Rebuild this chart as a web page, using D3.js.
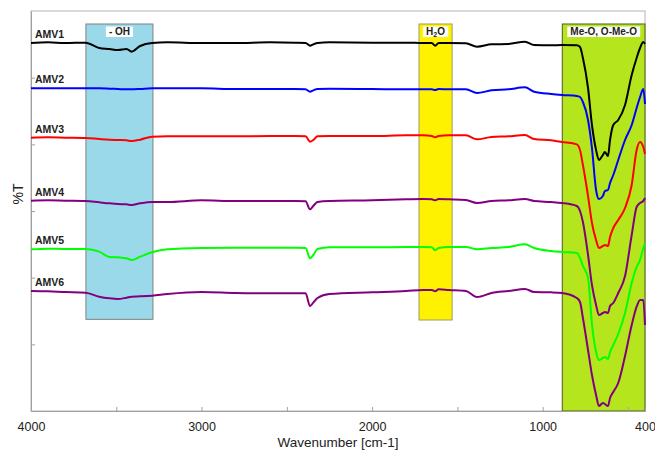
<!DOCTYPE html>
<html>
<head>
<meta charset="UTF-8">
<title>FTIR spectra</title>
<style>
	body { margin: 0; background: #fff; }
	svg text { font-family: Arial, "Liberation Sans", sans-serif; }
</style>
</head>
<body>
<div id="chart"></div>
<script src="https://cdn.jsdelivr.net/npm/d3@7/dist/d3.min.js"></script>
<script>
// wavenumber grid (cm-1), shared by all spectra
var wavenumbers = [4000, 3900, 3800, 3680, 3600, 3540, 3490, 3440, 3410, 3360,
	3290, 3200, 3000, 2800, 2600, 2450, 2390, 2364, 2345, 2320,
	2250, 2000, 1800, 1700, 1650, 1630, 1610, 1550, 1450, 1385,
	1300, 1200, 1104, 1050, 950, 887,
	800, 781, 764, 734, 711, 687, 670, 647, 635, 617, 605, 586, 557, 517, 478, 449, 429, 410, 400];

// %T (stacked, offset spectra)
var amv1 = [110.4, 110.6, 110.4, 110.5, 108.9, 108.6, 108.3, 108.6, 107.8, 109.5,
	110.4, 110.6, 110.4, 110.4, 110.6, 110.5, 110.4, 109.6, 110.0, 110.4,
	110.6, 110.5, 110.5, 110.4, 110.4, 109.6, 110.4, 110.4, 110.3, 109.3,
	110.0, 110.1, 110.8, 109.8, 109.7, 109.8,
	109.7, 109.2, 105.9, 96.9, 85.8, 78.3, 75.3, 76.8, 77.7, 76.5, 81.3, 85.8, 87.3, 91.8, 100.8, 105.9, 108.9, 110.7, 110.1];
var amv2 = [96.8, 96.8, 96.8, 96.8, 96.8, 96.7, 96.6, 96.5, 96.5, 96.6,
	96.8, 96.8, 96.8, 96.6, 96.6, 96.6, 96.5, 95.8, 96.2, 96.6,
	96.7, 96.6, 96.5, 96.5, 96.5, 96.3, 96.6, 96.5, 96.5, 95.4,
	96.2, 96.5, 97.1, 95.8, 95.1, 94.8,
	94.5, 94.2, 92.7, 87.3, 78.9, 66.3, 63.6, 64.5, 66.0, 66.3, 68.4, 70.8, 75.3, 81.3, 85.8, 90.9, 94.2, 96.6, 92.1];
var amv3 = [82.0, 82.1, 82.0, 81.9, 81.6, 81.4, 81.3, 81.2, 81.0, 81.4,
	82.3, 82.4, 82.4, 82.4, 82.5, 82.5, 82.4, 80.8, 81.3, 82.4,
	82.5, 82.5, 82.7, 82.7, 82.5, 82.1, 82.5, 82.7, 82.7, 81.5,
	82.2, 82.4, 82.8, 81.6, 81.2, 80.7,
	80.0, 78.3, 73.8, 64.5, 56.4, 51.3, 48.9, 49.5, 49.8, 49.5, 52.2, 54.9, 57.3, 60.9, 67.8, 78.3, 80.7, 79.2, 77.1];
var amv4 = [63.1, 63.2, 63.1, 63.0, 62.6, 62.3, 62.1, 62.0, 61.8, 62.3,
	62.7, 62.7, 63.2, 63.0, 63.0, 63.0, 62.9, 60.5, 61.5, 62.7,
	63.0, 63.2, 63.5, 63.6, 63.5, 63.2, 63.6, 63.5, 63.3, 62.4,
	63.0, 63.2, 63.6, 63.0, 62.7, 62.4,
	61.5, 60.0, 56.7, 46.8, 37.8, 31.8, 28.8, 29.4, 29.7, 29.4, 31.5, 32.4, 35.4, 40.5, 52.8, 61.2, 62.4, 63.0, 63.9];
var amv5 = [48.5, 48.7, 48.6, 48.6, 47.8, 46.2, 46.1, 45.8, 45.3, 46.3,
	47.6, 48.5, 48.9, 49.0, 49.0, 49.0, 48.9, 45.8, 46.8, 48.6,
	49.1, 49.1, 49.2, 49.2, 49.1, 48.2, 48.9, 49.2, 49.2, 48.5,
	48.9, 49.2, 50.0, 48.9, 48.0, 47.7,
	47.4, 45.9, 43.5, 39.9, 26.1, 17.7, 15.3, 15.9, 16.2, 15.6, 17.7, 19.8, 23.1, 29.4, 38.4, 43.2, 45.3, 48.9, 50.4];
var amv6 = [36.0, 35.9, 35.7, 35.5, 34.3, 33.8, 33.6, 34.0, 34.3, 34.4,
	34.6, 35.1, 35.7, 35.4, 35.3, 35.3, 35.3, 31.5, 32.5, 33.9,
	35.1, 35.6, 36.0, 36.3, 36.3, 35.9, 36.5, 36.3, 36.0, 34.2,
	35.4, 36.0, 36.6, 35.7, 35.6, 35.4,
	33.9, 32.7, 27.9, 18.3, 10.8, 4.8, 1.5, 2.4, 2.1, 1.5, 3.9, 5.7, 8.4, 16.5, 25.8, 31.3, 33.3, 33.3, 25.8];

var seriesNames = ["AMV1", "AMV2", "AMV3", "AMV4", "AMV5", "AMV6"];
var seriesValues = [amv1, amv2, amv3, amv4, amv5, amv6];

var xTicks = [4000, 3500, 3000, 2500, 2000, 1500, 1000, 500, 400];
var xLabels = [4000, 3000, 2000, 1000, 400];
var yTicks = [20, 40, 60, 80, 100];

// marked absorption regions: wavenumber range and lower %T edge
var bandNames = ["- OH", "H2O", "Me-O, O-Me-O"];
var bandFrom = [3678, 1725, 885];
var bandTo = [3285, 1531, 400];
var bandLow = [27.5, 27.3, 0];
var bandHigh = 116.1;

var colors = ["#000000", "#0000ff", "#ff0000", "#800080", "#00ff00", "#800080"];
var bandColors = ["#99d9ea", "#fff200", "#b5e61d"];
var bandStroke = ["#808080", "#9a9a6a", "#4f5a20"];

drawChart();

function drawChart() {
	var width = 655, height = 450;
	var mLeft = 31, mRight = 645, mTop = 11, mBottom = 411;

	var x = d3.scaleLinear().domain([4000, 400]).range([mLeft, mRight]);
	var y = d3.scaleLinear().domain([0, 120]).range([mBottom, mTop]);

	var svg = d3.select("#chart").append("svg")
		.attr("width", width)
		.attr("height", height);

	// frame
	svg.append("rect")
		.attr("x", mLeft).attr("y", mTop)
		.attr("width", mRight - mLeft).attr("height", mBottom - mTop)
		.attr("fill", "none")
		.attr("stroke", "#b4b4b4");

	// bands
	bandNames.forEach(function(n, i) {
		svg.append("rect")
			.attr("x", x(bandFrom[i]))
			.attr("y", y(bandHigh))
			.attr("width", x(bandTo[i]) - x(bandFrom[i]))
			.attr("height", y(bandLow[i]) - y(bandHigh))
			.attr("fill", bandColors[i])
			.attr("stroke", bandStroke[i])
			.attr("stroke-width", 1);
	});

	// axes
	var xAxis = d3.axisBottom(x)
		.tickValues(xTicks)
		.tickSize(-4)
		.tickSizeOuter(0)
		.tickPadding(11.5)
		.tickFormat(function(d) { return xLabels.indexOf(d) >= 0 ? d : ""; });
	var gx = svg.append("g")
		.attr("transform", "translate(0," + mBottom + ")")
		.call(xAxis);
	gx.select(".domain").attr("stroke", "#a0a0a0");
	gx.selectAll(".tick line").attr("stroke", "#a0a0a0");
	gx.selectAll("text").attr("font-size", 12.5).attr("fill", "#222")
		.attr("font-family", "Arial, 'Liberation Sans', sans-serif");

	var gy = svg.append("g")
		.attr("transform", "translate(" + mLeft + ",0)")
		.call(d3.axisLeft(y).tickValues(yTicks).tickSize(-4).tickSizeOuter(0).tickFormat(""));
	gy.select(".domain").attr("stroke", "#a0a0a0");
	gy.selectAll(".tick line").attr("stroke", "#a0a0a0");

	svg.append("text")
		.attr("x", (mLeft + mRight) / 2)
		.attr("y", 447)
		.attr("text-anchor", "middle")
		.attr("font-size", 13.5)
		.attr("fill", "#222")
		.text("Wavenumber [cm-1]");

	svg.append("text")
		.attr("transform", "translate(23,194) rotate(-90)")
		.attr("text-anchor", "middle")
		.attr("font-size", 14)
		.attr("fill", "#222")
		.text("%T");

	// spectra
	var line = d3.line()
		.x(function(d, i) { return x(wavenumbers[i]); })
		.y(function(d) { return y(d); })
		.curve(d3.curveMonotoneX);

	seriesValues.forEach(function(vals, i) {
		svg.append("path")
			.datum(vals)
			.attr("d", line)
			.attr("fill", "none")
			.attr("stroke", colors[i])
			.attr("stroke-width", 2)
			.attr("stroke-linejoin", "round");
		svg.append("text")
			.attr("x", mLeft + 4)
			.attr("y", y(vals[0]) - 5)
			.attr("font-size", 10.5)
			.attr("font-weight", "bold")
			.attr("fill", "#222")
			.text(seriesNames[i]);
	});

	// band labels in white boxes
	bandNames.forEach(function(n, i) {
		var cx = (x(bandFrom[i]) + x(bandTo[i])) / 2;
		var t = svg.append("text")
			.attr("x", cx)
			.attr("y", y(bandHigh) + 11)
			.attr("text-anchor", "middle")
			.attr("font-size", 10)
			.attr("font-weight", "bold")
			.attr("fill", "#222");
		if (n === "H2O") {
			t.append("tspan").text("H");
			t.append("tspan").attr("font-size", 7).attr("dy", 2).text("2");
			t.append("tspan").attr("dy", -2).text("O");
		} else {
			t.text(n);
		}
		var bb = t.node().getBBox();
		svg.insert("rect", function() { return t.node(); })
			.attr("x", bb.x - 3)
			.attr("y", y(bandHigh) + 2.5)
			.attr("width", bb.width + 6)
			.attr("height", 10.5)
			.attr("fill", "#fff");
	});
}
</script>
</body>
</html>
